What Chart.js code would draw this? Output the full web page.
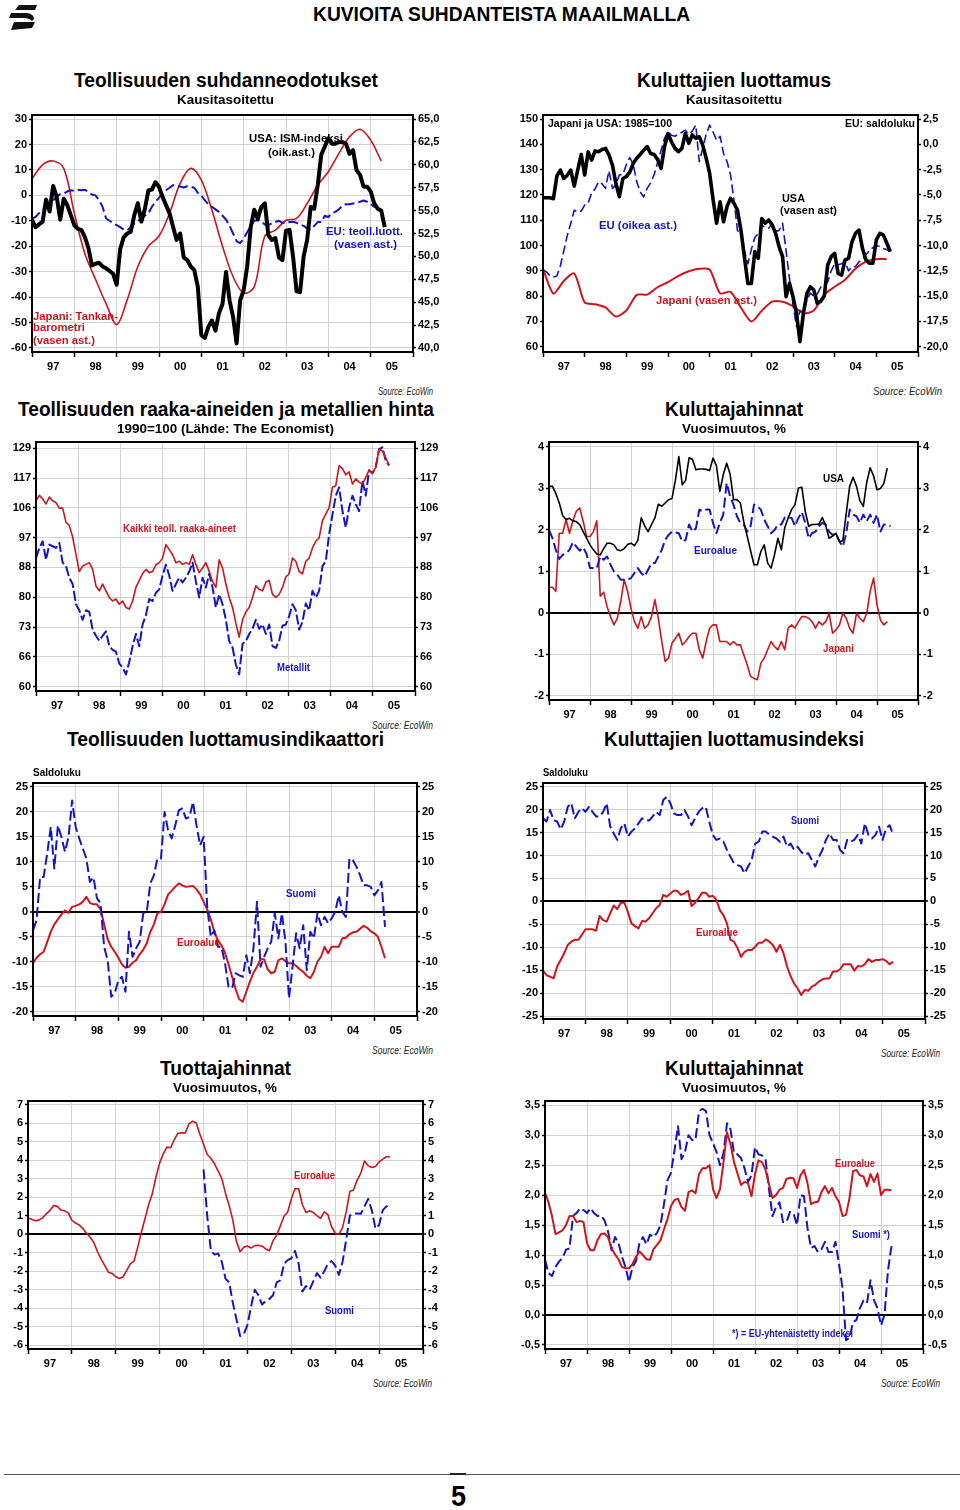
<!DOCTYPE html>
<html lang="fi">
<head>
<meta charset="utf-8">
<title>Kuvioita suhdanteista maailmalla</title>
<script src="https://cdn.jsdelivr.net/npm/chart.js@4.4.1/dist/chart.umd.min.js"></script>
<style>
html,body{margin:0;padding:0;background:#fff;}
body{width:960px;height:1510px;position:relative;overflow:hidden;}
canvas{position:absolute;z-index:1;}
.tx{position:absolute;white-space:nowrap;font-weight:bold;font-family:"Liberation Sans",Arial,sans-serif;transform-origin:0 50%;line-height:1;z-index:5;}
#footline{position:absolute;left:4px;top:1474px;width:956px;height:1px;background:#555;}
#footbar{position:absolute;left:450px;top:1473px;width:16px;height:2px;background:#222;}
</style>
</head>
<body>
<svg id="logo" style="position:absolute;left:0;top:0" width="44" height="34" viewBox="0 0 44 34">
  <path d="M19 5 L37 5 L35 10 L15 10 Z" fill="#111"/>
  <path d="M11 13 L27 13 Q34 14 34 19 L32 21 Q29 18 24 18 L9 18 Z" fill="#111"/>
  <path d="M14 22 L35 22 L32 28 L11 30 Z" fill="#111"/>
</svg>
<div id="footline"></div><div id="footbar"></div>
<script>
// ---------- common axis labels ----------
const yearLabels = ['97','98','99','00','01','02','03','04','05'];
const xTickValues = [1997,1997.5,1998,1998.5,1999,1999.5,2000,2000.5,2001,2001.5,2002,2002.5,2003,2003.5,2004,2004.5,2005,2005.5,2006];
const MONTH = 1 / 12;
const QUARTER = 0.25;

// ---------- 1: Teollisuuden suhdanneodotukset ----------
const c1LeftTicks = [-60,-50,-40,-30,-20,-10,0,10,20,30];
const c1RightTicks = [40,42.5,45,47.5,50,52.5,55,57.5,60,62.5,65];
const tankanJapan = [6.5,12,13.5,10.6,-7,-23,-33,-42.6,-50.8,-41,-28,-20,-16,-7,4.7,10.6,6,-5.8,-20,-32,-38.4,-36,-16,-13.7,-9.8,-9.1,-3.2,4,9.3,16.5,23,26,21.7,13.5];
const ismUSA = [54.0,53.2,53.5,53.8,56.2,54.9,57.7,56.5,54.0,56.3,55.6,54.5,
53.4,53.0,52.9,52.1,50.9,49.0,49.2,49.3,48.9,48.7,48.4,48.1,
46.9,50.8,52.1,52.5,52.7,54.5,55.8,53.8,55.2,57.2,57.3,58.1,
57.6,56.5,55.6,54.7,53.2,51.8,52.5,49.9,49.6,48.9,48.5,46.7,
41.4,41.1,42.3,43.0,41.9,43.8,44.8,48.3,45.2,43.4,40.5,45.2,
46.3,48.9,53.2,55.1,54.1,55.4,55.8,52.3,51.8,52.0,49.9,49.6,
52.8,52.9,50.0,46.2,46.1,50.0,51.8,55.4,55.2,57.8,61.1,62.0,
62.9,62.3,62.3,62.5,62.5,62.3,61.2,61.6,59.4,58.9,57.6,57.6,
57.1,55.8,55.2,55.0,53.2];
const euIndConf = [-9.1,-8.5,-7,-5.8,-4.5,-3,-1.9,-0.5,0.5,0.7,1.5,2,
1.8,2.2,2.0,2.2,1.2,0.3,0.0,-1.9,-4.5,-9.1,-10.0,-11.0,
-11.7,-12.5,-13.5,-13.7,-12.5,-11.1,-10.0,-9.1,-8.0,-7.1,-4.5,-2.5,
-1.0,1.0,2.0,3.0,4.0,3.8,3.5,3.1,3.6,3.4,3.0,1.0,
0.0,-2.0,-3.5,-4.5,-5.5,-6.5,-8.0,-9.5,-12.0,-15.0,-18.0,-18.8,
-17.0,-14.5,-12.0,-10.0,-9.8,-10.2,-11.5,-11.7,-11.0,-10.5,-10.0,-10.8,
-11.0,-10.5,-10.4,-10.8,-11.5,-12.0,-13.0,-13.5,-12.0,-10.5,-10.5,-8.0,
-8.5,-7.0,-6.5,-5.5,-4.0,-3.5,-3.5,-3.2,-3.0,-2.5,-2.0,-2.5,
-3.5,-4.5,-5.0,-6.5,-11.7];

// ---------- 2: Kuluttajien luottamus ----------
const c2LeftTicks = [60,70,80,90,100,110,120,130,140,150];
const c2RightTicks = [-20,-17.5,-15,-12.5,-10,-7.5,-5,-2.5,0,2.5];
const usaConsumer = [118.9,118.9,118.9,118.5,127.5,129.8,126.5,127.8,129.8,123.5,129.8,136.0,
127.9,137.0,133.8,137.4,137.1,138.0,138.4,135.8,131.8,124.5,119.3,126.5,
127.2,129.0,132.5,134.5,136.0,137.7,139.1,136.4,136.0,134.0,130.5,139.1,
144.3,141.0,138.5,137.1,138.4,144.3,140.4,143.7,142.4,143.0,139.7,134.5,
128.5,118.0,108.8,117.3,109.4,115.4,118.6,116.7,114.0,106.1,95.6,85.0,
85.0,97.6,94.9,110.7,108.8,110.1,108.1,104.8,99.5,95.6,79.8,85.0,
79.8,73.2,62.0,73.2,81.0,83.7,82.4,77.1,78.0,80.0,92.3,95.6,
96.9,89.0,88.3,94.3,94.9,101.5,104.8,106.1,98.9,94.3,93.0,93.0,
102.2,104.8,104.2,101.0,97.6];
const euConsumer = [-12.4,-12.6,-13.0,-13.1,-13.0,-12.0,-10.5,-9.0,-7.8,-6.5,-6.7,-6.6,
-6.0,-5.8,-4.8,-4.4,-3.7,-3.9,-4.35,-2.6,-4.35,-4.0,-3.0,-3.0,
-2.0,-1.3,-2.0,-3.7,-4.7,-5.2,-4.35,-3.8,-3.0,-1.8,-0.6,0.6,
1.25,0.9,0.8,1.0,1.2,1.4,1.0,1.3,1.9,-1.7,-0.4,1.0,
1.9,1.2,0.4,0.8,-0.9,-1.7,-3.0,-5.5,-8.5,-9.0,-10.5,-11.8,
-10.4,-9.2,-8.8,-8.0,-8.2,-8.3,-7.8,-8.6,-8.5,-7.8,-10.5,-13.3,
-15.8,-18.0,-16.4,-16.7,-15.4,-14.7,-15.0,-14.8,-14.1,-13.9,-13.6,-12.5,
-11.8,-11.9,-11.8,-11.6,-12.5,-12.1,-12.1,-11.6,-11.4,-10.9,-10.5,-10.2,
-10.0,-10.1,-10.3,-10.4,-10.6];
const japanConsumer = [90.8,81,86,89,77.5,76.8,75.5,71.9,74.3,80.5,80.6,83.5,85.5,88,89.8,90.8,90.5,81.1,81.7,75.5,70,74.2,77.8,77.8,76,73.2,74.3,80.5,83.7,86.5,90.8,93.6,94.6,94.6];

// ---------- 3: Raaka-aineiden hinnat (log scale, ~4-week sampling) ----------
const c3Ticks = [60,66,72.6,79.86,87.85,96.63,106.3,116.9,128.6];
const c3TickLabels = ['60','66','73','80','88','97','106','117','129'];
const C3_STEP = 0.0791;
const allIndustrials = [108.7,110.6,109.4,107.6,110,108.7,108.1,106.2,106.2,101.5,
100.5,96.8,91.5,86.7,88.2,88.7,89.2,87.3,82.8,81.5,
83.3,81.5,79.8,78.9,79.4,78.1,78.9,77.3,76.9,78.9,
82.4,84.3,86.1,87.3,86.4,86.7,88.6,89.2,90.5,94.5,
93.0,91.5,89.2,89.6,88.7,89.2,88.7,91.5,88.7,86.4,
87.7,89.2,86.7,84.0,82.4,90.0,87.7,83.3,79.8,77.3,
73.5,70.3,74.3,76.2,77.3,79.8,82.8,81.9,81.5,83.8,
84.3,80.6,79.8,80.6,82.4,85.2,86.1,90.5,89.6,86.7,
86.1,89.6,90.5,93.5,95.5,96.6,102,104.2,106.4,113.5,
114.1,121.7,120.5,118.1,119.3,114.7,116.6,115.4,114.7,117.2,
119.9,118.7,121.1,128.2,127.5,124.8,121.7];
const metals = [90.5,93.5,95.5,90.0,94.5,94.0,93.5,95.0,89.2,88.2,
85.0,83.3,78.1,76.6,74.3,76.6,76.2,72.0,70.6,69.5,
70.6,71.6,68.3,67.5,67.1,64.6,63.8,62.4,64.9,68.3,
71.0,68.3,73.2,75.4,79.4,78.9,81.0,81.9,85.6,88.6,
85.6,81.5,83.3,85.0,83.7,85.0,86.7,89.2,84.0,79.8,
85.0,82.4,86.1,82.4,77.3,80.6,78.1,74.3,69.4,68.0,
64.4,62.4,68.8,69.4,71.0,72.2,74.3,72.2,73.2,71.0,
73.2,68.3,67.9,69.5,72.9,73.2,75.2,78.1,76.6,72.0,
73.8,78.3,76.6,81.5,79.8,81.5,88.2,89.6,97.7,104.0,
110.5,113.5,105.2,99.8,106.4,110.5,107.5,105.2,116.0,110.5,
119.9,118.7,121.1,128.2,129,123.5,121.7];

// ---------- 4: Kuluttajahinnat (USA, euroalue, Japani) ----------
const c4Ticks = [-2,-1,0,1,2,3,4];
const cpiUSA = [3.05,3.05,2.88,2.65,2.35,2.25,2.28,2.22,2.20,2.13,1.96,1.80,
1.64,1.52,1.42,1.40,1.55,1.68,1.68,1.64,1.52,1.50,1.55,1.65,
1.68,1.62,1.75,2.29,2.10,1.96,2.13,2.29,2.62,2.57,2.65,2.73,
2.76,3.20,3.77,3.09,3.20,3.74,3.70,3.45,3.47,3.47,3.46,3.43,
3.73,3.55,2.93,3.33,3.61,3.35,2.73,2.73,2.65,2.20,1.85,1.50,
1.16,1.16,1.48,1.64,1.20,1.08,1.40,1.80,1.52,2.05,2.29,2.49,
2.61,3.01,3.03,2.45,2.09,2.13,2.13,2.14,2.30,2.10,1.80,1.85,
1.92,1.72,1.74,2.40,3.05,3.27,3.05,2.70,2.57,3.15,3.50,3.30,
2.97,3.00,3.12,3.49];
const cpiEuro = [2.0,1.80,1.52,1.30,1.40,1.44,1.52,1.70,1.60,1.50,1.58,1.42,
1.08,1.08,1.08,1.36,1.28,1.36,1.16,1.00,0.92,0.80,0.80,0.80,
0.84,0.96,1.08,0.96,0.88,1.04,1.20,1.20,1.36,1.52,1.76,1.88,
1.96,1.94,1.92,1.72,1.76,2.13,1.96,2.04,2.49,2.45,2.49,2.49,
2.17,1.92,2.17,2.37,3.13,2.81,2.61,2.33,2.17,2.13,1.96,2.09,
2.61,2.57,2.49,2.25,2.09,1.92,2.0,2.13,2.13,2.30,2.30,2.29,
2.09,2.29,2.43,2.17,1.80,1.92,1.96,2.09,2.17,2.13,1.96,1.88,
1.92,1.72,1.60,1.92,2.49,2.37,2.33,2.17,2.37,2.21,2.37,2.17,
2.37,1.96,2.13,2.13,2.09];
const cpiJapan = [0.62,0.62,0.52,1.92,1.92,2.25,1.92,2.22,2.45,2.53,2.21,1.84,
1.84,1.96,2.22,0.40,0.50,0.15,-0.09,-0.29,-0.13,0.28,0.80,0.52,
0.11,-0.21,-0.37,-0.09,-0.37,-0.29,-0.09,0.32,-0.13,-0.69,-1.17,-1.09,
-0.73,-0.61,-0.49,-0.77,-0.69,-0.57,-0.49,-0.49,-0.89,-1.09,-0.69,-0.37,
-0.29,-0.29,-0.69,-0.69,-0.69,-0.77,-0.69,-0.77,-0.77,-1.01,-1.25,-1.53,
-1.58,-1.61,-1.21,-1.09,-0.89,-0.69,-0.81,-0.89,-0.69,-0.89,-0.37,-0.29,
-0.37,-0.21,-0.09,-0.09,-0.13,-0.21,-0.37,-0.21,-0.29,-0.21,-0.01,-0.49,
-0.41,-0.29,-0.01,-0.13,-0.37,-0.49,-0.01,-0.13,-0.21,-0.01,0.52,0.84,
0.20,-0.17,-0.29,-0.21];

// ---------- 5: Teollisuuden luottamusindikaattori ----------
const c5Ticks = [-20,-15,-10,-5,0,5,10,15,20,25];
const indConfFinland = [-3.7,-1.7,7.0,7.0,11.7,17.0,8.7,17.3,15.0,12.0,15.0,22.3,
17.0,14.7,12.7,10.7,6.0,6.9,2.7,1.7,-7.0,-9.7,-17.0,-16.3,
-13.7,-13.0,-16.0,-4.0,-9.0,-7.3,-6.0,-0.3,0.0,5.7,7.3,10.7,
10.7,20.0,16.3,14.7,17.3,20.3,20.7,18.7,19.0,22.0,17.3,13.3,
15.0,1.0,-5.0,-3.7,-7.0,-7.0,-10.3,-15.0,-15.3,-12.3,-12.7,-13.0,
-8.7,-12.3,-7.3,2.0,-11.0,-9.0,-7.3,-6.0,-0.3,-5.3,-0.3,-6.0,
-17.3,-11.0,-4.3,-7.3,-2.7,-11.7,-4.0,-5.3,-0.3,-2.7,-1.0,-2.3,
-1.3,0.0,3.3,0.0,-1.0,10.7,10.3,9.0,7.3,5.3,5.3,5.0,
3.3,4.3,6.0,-3.0];
const indConfEuro = [-10.3,-9.2,-8.5,-8.0,-6.0,-4.0,-2.5,-1.5,-0.5,0.3,-0.2,1.0,
1.2,1.5,2.0,3.0,1.8,1.5,1.5,0.5,-2.5,-5.5,-7.0,-8.0,
-9.2,-10.5,-11.2,-11.0,-10.2,-9.7,-8.5,-7.6,-6.3,-4.0,-2.5,-0.3,
0.0,1.5,3.5,4.2,5.0,5.7,5.3,5.0,5.1,5.2,4.5,3.5,
2.0,0.5,-1.5,-4.0,-5.7,-6.7,-8.2,-10.5,-13.0,-15.5,-17.5,-18.0,
-16.0,-14.0,-12.2,-11.0,-9.5,-9.5,-11.5,-12.3,-12.0,-9.7,-9.3,-9.9,
-10.3,-10.3,-10.8,-11.5,-12.0,-12.8,-13.3,-12.0,-10.0,-9.0,-7.0,-8.3,
-7.0,-7.0,-7.0,-5.3,-5.2,-4.5,-4.1,-4.0,-3.4,-2.8,-3.2,-3.9,
-4.3,-5.0,-7.0,-9.3];

// ---------- 6: Kuluttajien luottamusindeksi ----------
const c6Ticks = [-25,-20,-15,-10,-5,0,5,10,15,20,25];
const consConfFinland = [18.1,17.4,19.9,17.7,17.4,15.7,17.4,20.6,21.4,18.1,19.5,20.3,
19.5,20.6,19.5,18.5,18.5,19.5,21.4,16.3,14.8,13.4,15.9,17.0,
14.1,15.2,15.9,17.0,18.1,17.7,17.6,18.5,19.5,18.8,22.1,22.8,
21.4,19.2,18.8,18.8,19.9,18.5,16.6,18.1,19.5,20.3,20.6,17.4,
14.5,13.4,13.7,13.0,11.2,9.7,8.3,7.9,7.6,6.1,7.6,9.0,
12.6,13.0,15.2,15.2,14.5,14.1,13.7,13.0,14.1,11.9,12.6,11.2,
11.9,10.8,10.1,10.5,9.0,7.6,9.7,11.2,13.4,14.8,13.4,13.4,
11.2,10.5,13.4,13.0,13.4,14.5,12.6,17.0,14.5,13.7,14.5,16.3,
13.4,15.9,16.6,14.5];
const consConfEuro = [-15.1,-16.1,-16.4,-16.8,-14.2,-12.8,-11.3,-9.5,-8.8,-8.4,-8.4,-7.3,
-6.1,-6.1,-6.1,-6.4,-3.2,-4.1,-4.4,-2.6,-0.9,-1.7,-0.3,-0.3,
-2.3,-4.8,-5.4,-5.9,-4.3,-4.4,-3.7,-2.6,-1.5,-0.8,1.4,1.0,
1.7,2.3,2.3,1.4,1.7,2.3,-1.0,-0.3,0.7,1.9,1.9,1.0,
1.2,0.4,-1.9,-3.0,-4.8,-8.4,-8.8,-10.2,-12.1,-11.0,-10.6,-10.6,
-9.9,-9.0,-9.0,-8.3,-8.8,-9.5,-11.0,-9.5,-11.3,-14.2,-16.3,-17.9,
-19.0,-20.4,-19.3,-19.5,-18.6,-18.2,-17.5,-17.0,-16.8,-16.8,-15.3,-15.3,
-14.8,-13.7,-13.7,-13.7,-15.1,-14.1,-14.2,-13.7,-12.6,-13.2,-12.8,-12.8,
-12.6,-13.0,-13.7,-13.2];

// ---------- 7: Tuottajahinnat ----------
const c7Ticks = [-6,-5,-4,-3,-2,-1,0,1,2,3,4,5,6,7];
const ppiEuro = [0.88,0.80,0.72,0.76,0.88,1.10,1.28,1.55,1.50,1.30,1.26,1.15,
0.75,0.60,0.50,0.30,0.05,-0.17,-0.45,-0.95,-1.35,-1.70,-2.05,-2.12,
-2.30,-2.39,-2.30,-1.95,-1.60,-1.45,-0.70,0.10,0.85,1.60,2.20,3.10,
3.85,4.35,4.70,4.67,5.10,5.45,5.47,5.47,5.95,6.10,6.00,5.40,
4.85,4.30,4.10,3.80,3.40,3.00,2.20,1.55,0.76,-0.40,-0.95,-0.70,
-0.64,-0.75,-0.62,-0.60,-0.65,-0.80,-0.90,-0.35,-0.05,0.45,0.97,1.20,
1.90,2.45,2.45,1.60,1.17,1.26,1.17,1.00,0.85,1.20,1.05,0.40,
0.05,0.00,0.35,1.20,2.30,2.38,2.92,3.30,3.95,3.70,3.60,3.65,
3.90,4.05,4.18,4.18];
const ppiFinlandStart = 2001.0;
const ppiFinland = [3.5,1.0,-0.9,-1.1,-1.05,-1.5,-2.4,-2.6,-3.7,-4.6,-5.5,-5.4,
-4.9,-3.9,-3.0,-3.3,-3.8,-3.6,-3.5,-3.3,-2.6,-2.5,-1.6,-1.4,
-1.3,-0.9,-1.6,-3.1,-2.8,-3.0,-2.55,-2.1,-2.35,-2.0,-1.6,-1.45,
-1.7,-2.2,-1.5,-0.3,1.0,1.12,1.12,1.1,1.5,1.9,1.3,0.3,
0.5,1.3,1.5,1.6];

// ---------- 8: Kuluttajahinnat (euroalue, Suomi) ----------
const c8Ticks = [-0.5,0,0.5,1,1.5,2,2.5,3,3.5];
const hicpEuro = [2.04,1.88,1.65,1.35,1.38,1.41,1.50,1.65,1.65,1.55,1.57,1.55,
1.20,1.08,1.08,1.25,1.35,1.36,1.30,1.12,1.01,0.93,0.80,0.78,
0.78,0.85,0.97,1.06,1.00,0.93,0.92,1.10,1.17,1.25,1.43,1.60,
1.82,1.92,1.94,1.80,1.74,2.05,2.08,2.03,2.35,2.45,2.45,2.50,
2.10,1.95,2.10,2.55,3.05,2.85,2.55,2.36,2.17,2.22,2.20,1.98,
2.35,2.58,2.55,2.42,2.18,1.95,2.00,2.09,2.12,2.27,2.29,2.28,
2.12,2.33,2.42,2.20,1.85,1.88,1.89,2.05,2.15,2.03,2.12,1.98,
1.89,1.65,1.67,1.95,2.40,2.42,2.33,2.31,2.15,2.35,2.22,2.36,
2.00,2.09,2.09,2.08];
const hicpFinland = [0.92,0.70,0.65,0.80,0.89,0.95,1.09,1.11,1.65,1.70,1.78,1.75,
1.70,1.78,1.70,1.65,1.66,1.58,1.40,1.08,1.30,1.20,0.97,0.80,
0.55,0.80,0.90,1.20,1.30,1.18,1.34,1.30,1.37,1.50,1.85,2.25,
2.37,2.75,3.15,2.60,2.72,3.00,2.92,2.92,3.40,3.44,3.40,3.00,
2.87,2.72,2.50,2.70,3.20,3.10,2.70,2.68,2.62,2.45,2.22,2.33,
2.80,2.68,2.66,2.60,2.10,1.65,1.80,1.88,1.55,1.55,1.72,1.70,
1.50,2.00,1.98,1.45,1.12,1.15,1.05,1.10,1.22,1.05,1.05,1.22,
0.85,0.45,-0.42,-0.38,-0.12,-0.08,0.12,0.24,0.20,0.58,0.25,0.11,
-0.17,0.00,0.75,1.15];

// ---------- styling & helpers ----------
const RED = '#d0141c', BLUE = '#1414c8', BLACK = '#000000', GRID = '#d2d2d2';
const TICK_FONT = {family: '"Liberation Sans", Arial, sans-serif', size: 11, weight: 'bold'};
const intFmt = v => String(v);
const decFmt = v => v.toFixed(1).replace('.', ',');

function ds(values, start, step, color, width, dash, axis, tension) {
  return {
    data: values.map((v, i) => ({x: start + i * step, y: v})),
    borderColor: color, backgroundColor: color, borderWidth: width,
    borderDash: dash || [], pointRadius: 0, pointHoverRadius: 0,
    tension: tension || 0, fill: false, yAxisID: axis,
    borderJoinStyle: 'round', borderCapStyle: 'butt'
  };
}

const framePlugin = {
  id: 'frame',
  afterDatasetsDraw(chart) {
    const a = chart.chartArea, c = chart.ctx;
    c.save();
    c.strokeStyle = '#000';
    c.lineWidth = 2;
    c.strokeRect(a.left, a.top, a.right - a.left, a.bottom - a.top);
    c.restore();
  }
};

function makeChart(id, g, ax, datasets, opt) {
  const cv = document.createElement('canvas');
  cv.id = id;
  const W = g.R - g.L, H = g.B - g.T;
  cv.width = W; cv.height = H;
  cv.style.left = g.L + 'px'; cv.style.top = g.T + 'px';
  cv.style.width = W + 'px'; cv.style.height = H + 'px';
  document.body.appendChild(cv);
  const yW = g.l - g.L, y2W = g.R - g.r, padTop = g.t - g.T, xH = g.B - g.b;
  const clear = 'rgba(0,0,0,0)';
  const isZero = c => opt.zero && c.tick && c.tick.value === 0;
  const yAxis = (a, pos, w, onArea) => ({
    type: a.type || 'linear', position: pos, min: a.min, max: a.max,
    afterBuildTicks: s => { s.ticks = a.ticks.map(v => ({value: v})); },
    afterFit: s => { s.width = w; },
    ticks: {autoSkip: false, padding: 2, color: '#000', font: TICK_FONT,
      callback: (v, i) => a.fmt(a.ticks[i], i)},
    grid: {
      drawOnChartArea: onArea,
      color: c => isZero(c) ? '#000' : (opt.grid ? GRID : clear),
      lineWidth: c => isZero(c) ? 2 : 1,
      tickLength: 3, tickColor: '#000', tickWidth: 1.5
    },
    border: {display: false}
  });
  return new Chart(cv, {
    type: 'line',
    data: {datasets},
    options: {
      responsive: false, animation: false, devicePixelRatio: 1, events: [],
      layout: {padding: {top: padTop, left: 0, right: 0, bottom: 0}},
      plugins: {legend: {display: false}, tooltip: {enabled: false}},
      scales: {
        x: {
          type: 'linear', min: 1997, max: 2006,
          afterBuildTicks: s => { s.ticks = xTickValues.map(v => ({value: v})); },
          afterFit: s => { s.height = xH; },
          ticks: {autoSkip: false, maxRotation: 0, minRotation: 0, padding: 3, color: '#000', font: TICK_FONT,
            callback: (v, i) => (i % 2 === 1 ? yearLabels[(i - 1) / 2] : '')},
          grid: {
            color: c => (c.index % 2 === 0 && opt.grid) ? GRID : clear,
            lineWidth: 1, tickLength: 5,
            tickColor: c => (c.index % 2 === 0 ? '#000' : clear), tickWidth: 1.5
          },
          border: {display: false}
        },
        y: yAxis(ax.left, 'left', yW, true),
        y2: yAxis(ax.right || ax.left, 'right', y2W, false)
      }
    },
    plugins: [framePlugin]
  });
}

// ---------- charts ----------
makeChart('c1', {L: 0, T: 105, R: 450, B: 376, l: 32, t: 115, r: 413, b: 352},
  {left: {min: -61.6, max: 31.6, ticks: c1LeftTicks, fmt: intFmt},
   right: {min: 39.56, max: 65.44, ticks: c1RightTicks, fmt: decFmt}},
  [ds(ismUSA, 1997, MONTH, BLACK, 4, null, 'y2'),
   ds(euIndConf, 1997, MONTH, BLUE, 2, [10, 4], 'y'),
   ds(tankanJapan, 1997, QUARTER, RED, 1.6, null, 'y', 0.35)],
  {grid: true, zero: false});

makeChart('c2', {L: 505, T: 105, R: 958, B: 376, l: 543, t: 115, r: 918, b: 352},
  {left: {min: 57.9, max: 151.6, ticks: c2LeftTicks, fmt: intFmt},
   right: {min: -20.52, max: 2.9, ticks: c2RightTicks, fmt: decFmt}},
  [ds(usaConsumer, 1997, MONTH, BLACK, 3.6, null, 'y'),
   ds(euConsumer, 1997, MONTH, BLUE, 1.6, [9, 4], 'y2'),
   ds(japanConsumer, 1997, QUARTER, RED, 2, null, 'y', 0.25)],
  {grid: false, zero: false});

makeChart('c3', {L: 0, T: 432, R: 450, B: 715, l: 36, t: 442, r: 415, b: 691},
  {left: {type: 'logarithmic', min: 59.17, max: 131.2, ticks: c3Ticks, fmt: (v, i) => c3TickLabels[i]}},
  [ds(allIndustrials, 1997, C3_STEP, RED, 1.6, null, 'y'),
   ds(metals, 1997, C3_STEP, BLUE, 2, [10, 3], 'y')],
  {grid: true, zero: false});

makeChart('c4', {L: 510, T: 432, R: 955, B: 724, l: 549, t: 442, r: 918, b: 700},
  {left: {min: -2.1, max: 4.12, ticks: c4Ticks, fmt: intFmt}},
  [ds(cpiUSA, 1997, MONTH, BLACK, 1.6, null, 'y'),
   ds(cpiEuro, 1997, MONTH, BLUE, 2, [10, 4], 'y'),
   ds(cpiJapan, 1997, MONTH, RED, 1.6, null, 'y')],
  {grid: true, zero: true});

makeChart('c5', {L: 0, T: 773, R: 455, B: 1040, l: 33, t: 783, r: 417, b: 1016},
  {left: {min: -20.86, max: 25.8, ticks: c5Ticks, fmt: intFmt}},
  [ds(indConfFinland, 1997, MONTH, BLUE, 2, [10, 4], 'y'),
   ds(indConfEuro, 1997, MONTH, RED, 2, null, 'y')],
  {grid: true, zero: true});

makeChart('c6', {L: 505, T: 773, R: 958, B: 1043, l: 543, t: 783, r: 925, b: 1019},
  {left: {min: -25.65, max: 25.8, ticks: c6Ticks, fmt: intFmt}},
  [ds(consConfFinland, 1997, MONTH, BLUE, 2, [10, 4], 'y'),
   ds(consConfEuro, 1997, MONTH, RED, 2, null, 'y')],
  {grid: true, zero: true});

makeChart('c7', {L: 0, T: 1091, R: 455, B: 1373, l: 28, t: 1101, r: 423, b: 1349},
  {left: {min: -6.2, max: 7.19, ticks: c7Ticks, fmt: intFmt}},
  [ds(ppiEuro, 1997, MONTH, RED, 1.6, null, 'y'),
   ds(ppiFinland, ppiFinlandStart, MONTH, BLUE, 2, [10, 4], 'y')],
  {grid: true, zero: true});

makeChart('c8', {L: 505, T: 1091, R: 958, B: 1373, l: 545, t: 1101, r: 923, b: 1349},
  {left: {min: -0.567, max: 3.57, ticks: c8Ticks, fmt: decFmt}},
  [ds(hicpEuro, 1997, MONTH, RED, 2, null, 'y'),
   ds(hicpFinland, 1997, MONTH, BLUE, 2, [10, 4], 'y')],
  {grid: true, zero: true});

// ---------- texts ----------
function addText(str, x1, x2, yc, size, color, kind) {
  const el = document.createElement('div');
  el.className = 'tx';
  el.textContent = str;
  el.style.fontSize = size + 'px';
  el.style.color = color;
  if (kind === 'narrow') el.style.fontFamily = '"Liberation Sans Narrow","Arial Narrow","Liberation Sans",Arial,sans-serif';
  if (kind === 'italic') { el.style.fontStyle = 'italic'; el.style.fontWeight = 'normal'; }
  document.body.appendChild(el);
  const w = el.getBoundingClientRect().width;
  el.style.left = x1 + 'px';
  el.style.top = (yc - size * 0.5) + 'px';
  el.style.transform = 'scaleX(' + ((x2 - x1) / w).toFixed(4) + ')';
}
const N = 'narrow', I = 'italic', K = '#000', S = '#222';
[
  ['KUVIOITA SUHDANTEISTA MAAILMALLA', 313, 690, 14, 20, K, N],
  ['Teollisuuden suhdanneodotukset', 74, 378, 80, 20, K, N],
  ['Kausitasoitettu', 177, 274, 99, 13, K, N],
  ['Kuluttajien luottamus', 637, 831, 80, 20, K, N],
  ['Kausitasoitettu', 686, 782, 99, 13, K, N],
  ['Teollisuuden raaka-aineiden ja metallien hinta', 18, 434, 409, 20, K, N],
  ['1990=100 (Lähde: The Economist)', 117, 334, 428, 13, K, N],
  ['Kuluttajahinnat', 665, 803, 409, 20, K, N],
  ['Vuosimuutos, %', 682, 786, 428, 13, K, N],
  ['Teollisuuden luottamusindikaattori', 67, 384, 739, 20, K, N],
  ['Kuluttajien luottamusindeksi', 604, 864, 739, 20, K, N],
  ['Tuottajahinnat', 160, 291, 1068, 20, K, N],
  ['Vuosimuutos, %', 173, 277, 1087, 13, K, N],
  ['Kuluttajahinnat', 665, 803, 1068, 20, K, N],
  ['Vuosimuutos, %', 682, 786, 1087, 13, K, N],
  ['Source: EcoWin', 378, 433, 392, 10, S, I],
  ['Source: EcoWin', 873, 942, 392, 10, S, I],
  ['Source: EcoWin', 372, 433, 726, 10, S, I],
  ['Source: EcoWin', 372, 433, 1051, 10, S, I],
  ['Source: EcoWin', 881, 940, 1054, 10, S, I],
  ['Source: EcoWin', 373, 432, 1384, 10, S, I],
  ['Source: EcoWin', 881, 940, 1384, 10, S, I],
  ['USA: ISM-indeksi', 249, 343, 138, 11, K],
  ['(oik.ast.)', 268, 315, 152, 11, K],
  ['EU: teoll.luott.', 326, 403, 231, 11, BLUE],
  ['(vasen ast.)', 334, 397, 244, 11, BLUE],
  ['Japani: Tankan-', 33, 118, 316, 11, RED],
  ['barometri', 33, 85, 327, 11, RED],
  ['(vasen ast.)', 33, 95, 340, 11, RED],
  ['Japani ja USA: 1985=100', 548, 672, 123, 11, K],
  ['EU: saldoluku', 845, 915, 123, 11, K],
  ['USA', 782, 805, 198, 11, K],
  ['(vasen ast)', 780, 837, 210, 11, K],
  ['EU (oikea ast.)', 599, 677, 225, 11, BLUE],
  ['Japani (vasen ast.)', 656, 757, 300, 11, RED],
  ['Kaikki teoll. raaka-aineet', 123, 236, 528, 11, RED],
  ['Metallit', 277, 310, 667, 11, BLUE],
  ['USA', 823, 844, 478, 11, K],
  ['Euroalue', 694, 737, 550, 11, BLUE],
  ['Japani', 823, 854, 648, 11, RED],
  ['Saldoluku', 33, 81, 772, 11, K],
  ['Suomi', 286, 316, 893, 11, BLUE],
  ['Euroalue', 177, 220, 942, 11, RED],
  ['Saldoluku', 543, 588, 772, 11, K],
  ['Suomi', 791, 819, 820, 11, BLUE],
  ['Euroalue', 696, 738, 932, 11, RED],
  ['Euroalue', 294, 335, 1175, 11, RED],
  ['Suomi', 325, 354, 1310, 11, BLUE],
  ['Euroalue', 835, 875, 1163, 11, RED],
  ['Suomi *)', 852, 890, 1234, 11, BLUE],
  ['*) = EU-yhtenäistetty indeksi', 732, 853, 1333, 11, BLUE],
  ['5', 451, 466, 1496, 29, K]
].forEach(t => addText(t[0], t[1], t[2], t[3], t[4], t[5], t[6]));
</script>
</body>
</html>
